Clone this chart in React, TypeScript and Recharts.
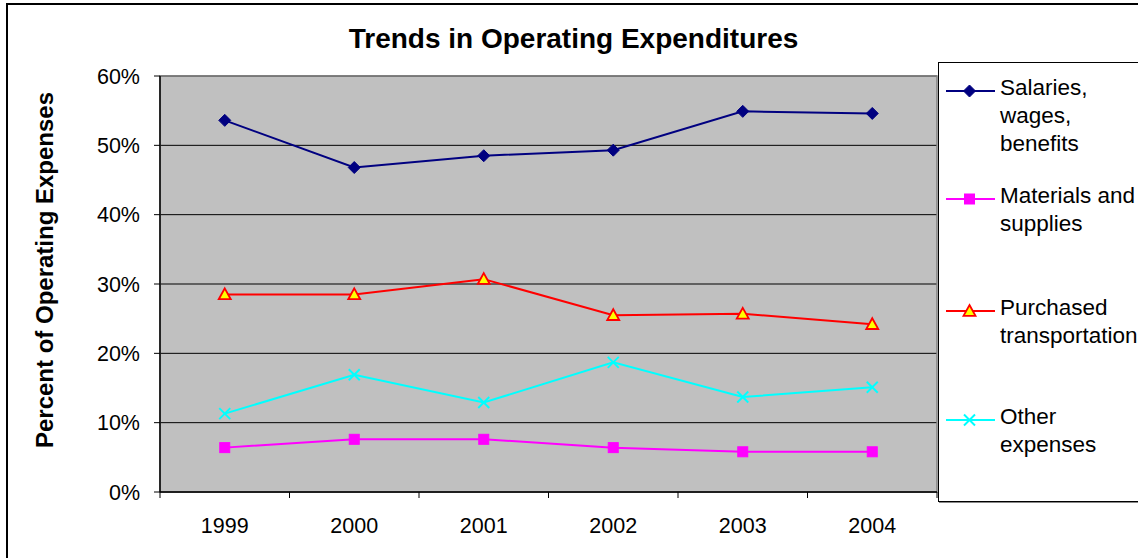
import React from "react";
import {
  LineChart,
  Line,
  XAxis,
  YAxis,
  CartesianGrid,
  ReferenceArea,
} from "recharts";

const years = ["1999", "2000", "2001", "2002", "2003", "2004"];
const salaries = [53.6, 46.8, 48.5, 49.3, 54.9, 54.6];
const materials = [6.4, 7.6, 7.6, 6.4, 5.8, 5.8];
const purchased = [28.5, 28.5, 30.7, 25.5, 25.7, 24.2];
const other = [11.3, 16.9, 12.9, 18.7, 13.7, 15.1];
const yTicks = [0, 10, 20, 30, 40, 50, 60];

const seriesNames = [
  ["Salaries,", "wages,", "benefits"],
  ["Materials and", "supplies"],
  ["Purchased", "transportation"],
  ["Other", "expenses"],
];

const data = years.map((y, i) => ({
  year: y,
  salaries: salaries[i],
  materials: materials[i],
  purchased: purchased[i],
  other: other[i],
}));

const CHART_W = 1138;
const CHART_H = 558;
const MARGIN = { top: 76, right: 201, bottom: 26, left: 100 };
const Y_W = 60;
const X_H = 40;
const PLOT_W = CHART_W - MARGIN.left - MARGIN.right - Y_W;
const FONT = "'Liberation Sans', Arial, sans-serif";

const NAVY = "#000080";
const MAGENTA = "#FF00FF";
const RED = "#FF0000";
const CYAN = "#00FFFF";

const Diamond = ({ cx, cy, size = 6 }: any) => (
  <polygon
    points={`${cx},${cy - size} ${cx + size},${cy} ${cx},${cy + size} ${cx - size},${cy}`}
    fill={NAVY}
    stroke={NAVY}
    strokeWidth={1}
  />
);
const Square = ({ cx, cy, size = 5 }: any) => (
  <rect x={cx - size} y={cy - size} width={size * 2} height={size * 2} fill={MAGENTA} stroke={MAGENTA} strokeWidth={1} />
);
const Triangle = ({ cx, cy, size = 6 }: any) => (
  <polygon
    points={`${cx},${cy - size} ${cx + size},${cy + size * 0.8} ${cx - size},${cy + size * 0.8}`}
    fill="#FFFF00"
    stroke={RED}
    strokeWidth={1.8}
    strokeLinejoin="miter"
  />
);
const Cross = ({ cx, cy, size = 5.5 }: any) => (
  <g stroke={CYAN} strokeWidth={2}>
    <line x1={cx - size} y1={cy - size} x2={cx + size} y2={cy + size} />
    <line x1={cx - size} y1={cy + size} x2={cx + size} y2={cy - size} />
  </g>
);

const markers = [Diamond, Square, Triangle, Cross];
const colors = [NAVY, MAGENTA, RED, CYAN];
const keys = ["salaries", "materials", "purchased", "other"];
const legendTops = [11, 119, 231, 340];

const dotRenderer = (M: any) => (props: any) => {
  const { cx, cy, index } = props;
  if (cx == null || cy == null) return <g key={index} />;
  return <M key={index} cx={cx} cy={cy} />;
};

const XTick = (props: any) => {
  const { x, y, payload, index } = props;
  const band = PLOT_W / years.length;
  return (
    <g>
      <line x1={x - band / 2} y1={y} x2={x - band / 2} y2={y + 6} stroke="#000" strokeWidth={1} />
      {index === years.length - 1 && (
        <line x1={x + band / 2} y1={y} x2={x + band / 2} y2={y + 6} stroke="#000" strokeWidth={1} />
      )}
      <text x={x} y={y + 41} textAnchor="middle" fontSize={21.5} fontFamily={FONT} fill="#000">
        {payload.value}
      </text>
    </g>
  );
};

const LegendBox = () => (
  <div
    style={{
      position: "absolute",
      left: 938,
      top: 62,
      width: 220,
      height: 438,
      border: "1px solid #000",
      background: "#fff",
      boxShadow: "1px 1px 0 #888",
      fontFamily: FONT,
      fontSize: 22.5,
      lineHeight: "28px",
      color: "#000",
    }}
  >
    {seriesNames.map((lines, i) => {
      const M = markers[i];
      return (
        <div key={i} style={{ position: "absolute", left: 0, top: legendTops[i], width: 220 }}>
          <svg width={60} height={34} style={{ position: "absolute", left: 0, top: 0 }}>
            <line x1={7} y1={17} x2={56} y2={17} stroke={colors[i]} strokeWidth={2} />
            <M cx={30.5} cy={17} />
          </svg>
          <div style={{ position: "absolute", left: 61, top: 0, whiteSpace: "nowrap" }}>
            {lines.map((l, j) => (
              <div key={j}>{l}</div>
            ))}
          </div>
        </div>
      );
    })}
  </div>
);

export default function App() {
  return (
    <div
      style={{
        position: "absolute",
        left: 0,
        top: 0,
        width: CHART_W,
        height: CHART_H,
        overflow: "hidden",
        background: "#fff",
      }}
    >
      <div
        style={{
          position: "absolute",
          left: 6,
          top: 3,
          width: 1300,
          height: 700,
          border: "2px solid #000",
        }}
      />
      <div
        style={{
          position: "absolute",
          left: 0,
          width: 1147,
          top: 23,
          textAlign: "center",
          fontFamily: FONT,
          fontWeight: "bold",
          fontSize: 28,
          lineHeight: "32px",
          color: "#000",
        }}
      >
        Trends in Operating Expenditures
      </div>
      <div
        style={{
          position: "absolute",
          left: 45,
          top: 270,
          transform: "translate(-50%, -50%) rotate(-90deg)",
          whiteSpace: "nowrap",
          fontFamily: FONT,
          fontWeight: "bold",
          fontSize: 24,
          lineHeight: "28px",
          color: "#000",
        }}
      >
        Percent of Operating Expenses
      </div>
      <div style={{ position: "absolute", left: 0, top: 0 }}>
        <LineChart width={CHART_W} height={CHART_H} data={data} margin={MARGIN}>
          <CartesianGrid
            vertical={false}
            horizontal={true}
            stroke="#000"
            strokeWidth={1}
            fill="#C0C0C0"
            fillOpacity={1}
          />
          <ReferenceArea y1={0} y2={60} fill="none" stroke="#808080" strokeWidth={1.5} ifOverflow="visible" />
          <XAxis
            dataKey="year"
            scale="band"
            height={X_H}
            tickSize={0}
            tickMargin={0}
            tickLine={false}
            axisLine={{ stroke: "#000", strokeWidth: 1.5 }}
            tick={<XTick />}
            interval={0}
          />
          <YAxis
            width={Y_W}
            domain={[0, 60]}
            ticks={yTicks}
            tickFormatter={(v: number) => `${v}%`}
            tickSize={6}
            tickMargin={14}
            tickLine={{ stroke: "#000" }}
            axisLine={{ stroke: "#000", strokeWidth: 1.5 }}
            tick={{ fill: "#000", fontSize: 21.5, fontFamily: FONT }}
          />
          {keys.map((k, i) => (
            <Line
              key={k}
              type="linear"
              dataKey={k}
              stroke={colors[i]}
              strokeWidth={2}
              dot={dotRenderer(markers[i])}
              activeDot={false}
              isAnimationActive={false}
            />
          ))}
        </LineChart>
      </div>
      <LegendBox />
    </div>
  );
}
